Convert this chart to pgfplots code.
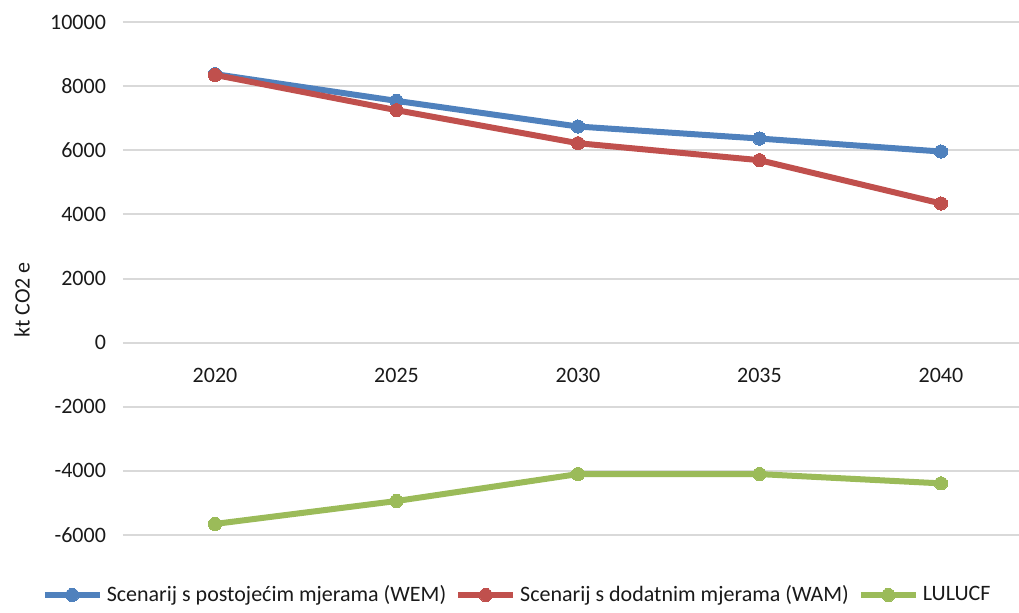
\documentclass[border=0pt]{standalone}
\usepackage{pgfplots}
\pgfplotsset{compat=1.18}
\usepackage{fontspec}
\setmainfont{Carlito}
\definecolor{wem}{HTML}{4F81BD}
\definecolor{wam}{HTML}{C0504D}
\definecolor{lulucf}{HTML}{9BBB59}
\definecolor{gridc}{HTML}{D9D9D9}
\definecolor{txt}{HTML}{1A1A1A}
\begin{document}
\begin{tikzpicture}
\useasboundingbox (-61.5pt,-38.5pt) rectangle (448pt,267.5pt);
\begin{axis}[
  at={(0pt,0pt)}, anchor=south west,
  scale only axis, width=448pt, height=256.5pt,
  xmin=-0.507, xmax=4.43,
  ymin=-6000, ymax=10000,
  scaled y ticks=false,
  xtick={0,1,2,3,4},
  xticklabels={2020,2025,2030,2035,2040},
  ytick={-6000,-4000,-2000,0,2000,4000,6000,8000,10000},
  yticklabels={-6000,-4000,-2000,0,2000,4000,6000,8000,10000},
  major tick length=0pt,
  axis line style={draw=none},
  ymajorgrids,
  major grid style={gridc, line width=1pt},
  tick label style={font=\fontsize{11}{13}\selectfont, text=txt},
  xticklabel style={anchor=center, yshift=80pt},
  yticklabel style={xshift=-5pt},
  every axis y label/.style={at={(rel axis cs:-0.1127,0.458)}, rotate=90, anchor=center},
  ylabel={kt CO2 e},
  label style={font=\fontsize{11}{13}\selectfont, text=txt},
  legend style={at={(0.441,-0.117)}, anchor=center, draw=none, fill=none,
    legend columns=-1, font=\fontsize{11}{13}\selectfont, text=txt,
    nodes={inner sep=2pt},
    /tikz/every even column/.append style={column sep=2.5pt},
    inner sep=0pt},
  legend image code/.code={\draw[mark repeat=2,mark phase=2] plot coordinates {(0pt,0pt) (13.75pt,0pt) (27.5pt,0pt)};},
  every axis plot/.append style={line width=3pt, mark=*, mark size=3.3pt},
  clip=false,
]
\addplot[color=wem, mark options={fill=wem, draw=wem, line width=0pt}] coordinates {(0,8375) (1,7540) (2,6740) (3,6365) (4,5960)};
\addlegendentry{Scenarij s postojećim mjerama (WEM)}
\addplot[color=wam, mark options={fill=wam, draw=wam, line width=0pt}] coordinates {(0,8350) (1,7250) (2,6220) (3,5690) (4,4340)};
\addlegendentry{Scenarij s dodatnim mjerama (WAM)}
\addplot[color=lulucf, mark options={fill=lulucf, draw=lulucf, line width=0pt}] coordinates {(0,-5655) (1,-4940) (2,-4100) (3,-4100) (4,-4390)};
\addlegendentry{LULUCF}
\end{axis}
\end{tikzpicture}
\end{document}
